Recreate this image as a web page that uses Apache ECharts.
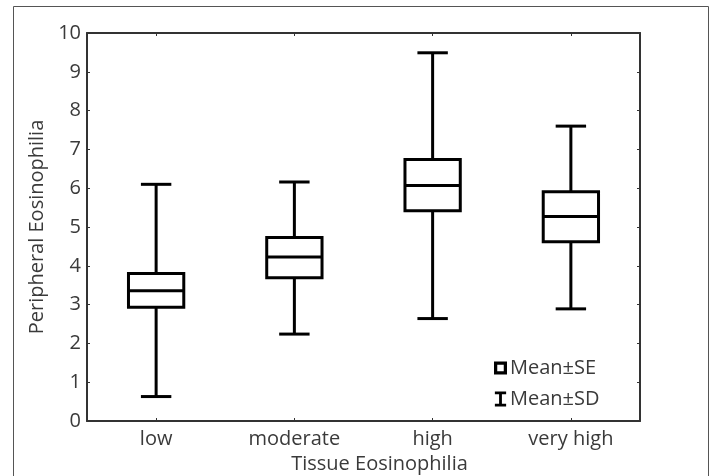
<!DOCTYPE html>
<html>
<head>
<meta charset="utf-8">
<script src="https://cdn.jsdelivr.net/npm/echarts@6/dist/echarts.min.js"></script>
<style>
  html, body { margin: 0; padding: 0; background: #fff; }
  #chart { width: 712px; height: 476px; }
</style>
</head>
<body>
<div id="chart"></div>
<script>
// values: mean, mean±SE (box), mean±SD (whiskers)
var categories = ['low', 'moderate', 'high', 'very high'];
var sdLow  = [0.63, 2.24, 2.64, 2.89];
var seLow  = [2.93, 3.69, 5.42, 4.62];
var means  = [3.36, 4.23, 6.07, 5.27];
var seHigh = [3.80, 4.73, 6.74, 5.91];
var sdHigh = [6.10, 6.16, 9.49, 7.60];
var yTicks = [0, 1, 2, 3, 4, 5, 6, 7, 8, 9, 10];

var FONT = '"Open Sans", "DejaVu Sans", sans-serif';
var INK = '#000';
var TEXT = '#3a3a3a';

var chart = echarts.init(document.getElementById('chart'), null, { renderer: 'canvas' });

// box = mean±SE with a line at the mean
function boxItem(params, api) {
  var i = api.value(0);
  var band = api.size([1, 0])[0];
  var half = band * 0.2;
  var top = api.coord([i, api.value(3)]);
  var mid = api.coord([i, api.value(2)]);
  var bot = api.coord([i, api.value(1)]);
  var st = { stroke: INK, lineWidth: 3, fill: null };
  return {
    type: 'group',
    children: [
      { type: 'rect', shape: { x: top[0] - half, y: top[1], width: half * 2, height: bot[1] - top[1] }, style: st },
      { type: 'line', shape: { x1: mid[0] - half, y1: mid[1], x2: mid[0] + half, y2: mid[1] }, style: st }
    ]
  };
}

// whiskers = mean±SD, drawn from the box edges out to capped ends
function whiskerItem(params, api) {
  var i = api.value(0);
  var band = api.size([1, 0])[0];
  var cap = band * 0.11;
  var hi = api.coord([i, api.value(4)]);
  var boxTop = api.coord([i, api.value(3)]);
  var boxBot = api.coord([i, api.value(1)]);
  var lo = api.coord([i, api.value(5)]);
  var st = { stroke: INK, lineWidth: 3 };
  return {
    type: 'group',
    children: [
      { type: 'line', shape: { x1: hi[0], y1: hi[1], x2: boxTop[0], y2: boxTop[1] }, style: st },
      { type: 'line', shape: { x1: hi[0] - cap, y1: hi[1], x2: hi[0] + cap, y2: hi[1] }, style: st },
      { type: 'line', shape: { x1: boxBot[0], y1: boxBot[1], x2: lo[0], y2: lo[1] }, style: st },
      { type: 'line', shape: { x1: lo[0] - cap, y1: lo[1], x2: lo[0] + cap, y2: lo[1] }, style: st }
    ]
  };
}

var boxData = categories.map(function (c, i) {
  return [i, seLow[i], means[i], seHigh[i]];
});
// [index, seLow, mean, seHigh, sdHigh, sdLow]
var whiskerData = categories.map(function (c, i) {
  return [i, seLow[i], means[i], seHigh[i], sdHigh[i], sdLow[i]];
});

var axisLine = { show: true, onZero: false, lineStyle: { color: '#333', width: 2 } };
var tickIn = { show: true, inside: true, length: 3, lineStyle: { color: '#333', width: 1 } };
var catTick = { show: true, inside: true, length: 3, alignWithLabel: true, lineStyle: { color: '#333', width: 1 } };

chart.setOption({
  animation: false,
  grid: { left: 87, right: 72, top: 33, bottom: 55, containLabel: false, outerBoundsMode: 'none' },
  graphic: [{
    type: 'rect',
    shape: { x: 13.5, y: 6.5, width: 695, height: 490 },
    style: { fill: null, stroke: '#555', lineWidth: 1 },
    z: -1
  }],
  legend: {
    orient: 'vertical',
    left: 489,
    top: 353,
    itemWidth: 13,
    itemHeight: 15,
    itemGap: 11,
    textStyle: { fontFamily: FONT, fontSize: 20, color: TEXT, padding: [0, 0, 0, -2] },
    data: [
      { name: 'Mean\u00b1SE', icon: 'path://M0,0 H12 V12 H0 Z M3,3 V9 H9 V3 Z' },
      { name: 'Mean\u00b1SD', icon: 'path://M0,0 H12 V3 H7.5 V13 H12 V16 H0 V13 H4.5 V3 H0 Z' }
    ]
  },
  xAxis: [{
    type: 'category',
    data: categories,
    position: 'bottom',
    boundaryGap: true,
    name: 'Tissue Eosinophilia',
    nameLocation: 'middle',
    nameGap: 32,
    nameTextStyle: { fontFamily: FONT, fontSize: 20, color: TEXT, padding: [0, 0, 0, 32] },
    axisLine: axisLine,
    axisTick: catTick,
    axisLabel: { fontFamily: FONT, fontSize: 20, color: TEXT, margin: 8 },
    splitLine: { show: false }
  }, {
    type: 'category',
    data: categories,
    position: 'top',
    boundaryGap: true,
    axisLine: axisLine,
    axisTick: catTick,
    axisLabel: { show: false },
    splitLine: { show: false }
  }],
  yAxis: [{
    type: 'value',
    min: yTicks[0],
    max: yTicks[yTicks.length - 1],
    interval: 1,
    position: 'left',
    name: 'Peripheral Eosinophilia',
    nameLocation: 'middle',
    nameGap: 30,
    nameTextStyle: { fontFamily: FONT, fontSize: 20, color: TEXT },
    axisLine: axisLine,
    axisTick: tickIn,
    axisLabel: { fontFamily: FONT, fontSize: 20, color: TEXT, margin: 6 },
    splitLine: { show: false }
  }, {
    type: 'value',
    min: yTicks[0],
    max: yTicks[yTicks.length - 1],
    interval: 1,
    position: 'right',
    axisLine: axisLine,
    axisTick: tickIn,
    axisLabel: { show: false },
    splitLine: { show: false }
  }],
  series: [{
    name: 'Mean\u00b1SE',
    type: 'custom',
    renderItem: boxItem,
    data: boxData,
    itemStyle: { color: INK },
    z: 3
  }, {
    name: 'Mean\u00b1SD',
    type: 'custom',
    renderItem: whiskerItem,
    data: whiskerData,
    itemStyle: { color: INK },
    z: 2
  }]
});
</script>
</body>
</html>
